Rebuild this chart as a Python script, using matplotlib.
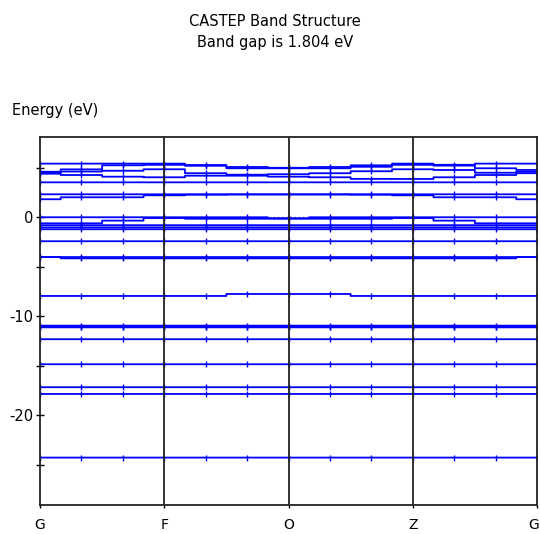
import numpy as np
import matplotlib
matplotlib.use("Agg")
import matplotlib.pyplot as plt
from matplotlib.transforms import ScaledTranslation

# ---- data ----
kpath_labels = ["G", "F", "O", "Z", "G"]
kpoints = [i / 3 for i in range(13)]  # 3 intervals per path segment

bands = {
    "u1": [5.42, 5.42, 5.42, 5.42, 5.28, 5.08, 5.00, 5.08, 5.25, 5.42, 5.22, 5.42, 5.42],
    "u2": [4.60, 4.84, 5.25, 5.30, 5.20, 4.95, 4.95, 4.95, 5.10, 5.30, 5.30, 4.95, 4.78],
    "u3": [4.50, 4.62, 4.70, 4.85, 4.45, 4.30, 4.35, 4.45, 4.65, 4.85, 4.78, 4.50, 4.60],
    "u4": [4.40, 4.27, 4.10, 4.04, 4.20, 4.20, 4.10, 4.04, 3.88, 3.87, 4.04, 4.27, 4.45],
    "u5": [3.53] * 13,
    "c2": [2.32] * 13,
    "c1": [1.82, 2.02, 2.02, 2.22, 2.28, 2.30, 2.30, 2.30, 2.28, 2.22, 2.02, 2.02, 1.82],
    "v1": [0.0, 0.0, 0.0, 0.0, 0.0, 0.0, -0.10, 0.0, 0.0, 0.0, 0.0, 0.0, 0.0],
    "v2": [-0.61, -0.61, -0.34, -0.08, -0.15, -0.15, -0.15, -0.15, -0.15, -0.08, -0.34, -0.61, -0.61],
    "v3": [-0.80] * 13,
    "v4": [-1.02] * 13,
    "v4b": [-1.21] * 13,
    "v5": [-2.42] * 13,
    "v6": [-4.02] * 13,
    "v7": [-4.02, -4.15, -4.15, -4.15, -4.15, -4.15, -4.15, -4.15, -4.15, -4.15, -4.15, -4.15, -4.02],
    "v8": [-7.95, -7.95, -7.95, -7.95, -7.95, -7.75, -7.75, -7.75, -7.95, -7.95, -7.95, -7.95, -7.95],
    "v9": [-10.95] * 13,
    "v10": [-11.05] * 13,
    "v11": [-11.12] * 13,
    "v12": [-12.32] * 13,
    "v13": [-14.85] * 13,
    "v14": [-17.17] * 13,
    "v15": [-17.85] * 13,
    "v16": [-24.28] * 13,
}

ytick_vals = [5, 0, -5, -10, -15, -20, -25]
ytick_labels = ["", "0", "", "-10", "", "-20", ""]
band_gap = 1.804

# ---- figure ----
W, H = 540, 534
fig = plt.figure(figsize=(W / 100, H / 100), dpi=100)
left, right, top, bottom = 40, 537, 136.7, 505.3
ax = fig.add_axes([left / W, 1 - bottom / H, (right - left) / W, (bottom - top) / H])

ax.axhline(0, color="black", ls=(0, (3, 3)), lw=0.5, zorder=1, snap=False)

for name, vals in bands.items():
    ax.plot(kpoints, vals, color="#0000FF", lw=1.3, drawstyle="steps-mid",
            marker="|", markersize=4.5, markeredgewidth=1.0, zorder=2, snap=False)

for xv in [1, 2, 3]:
    ax.axvline(xv, color="#222222", lw=1.3, zorder=3)

ax.set_xlim(0, 4)
ax.set_ylim(-29.1, 8.14)
ax.set_xticks(range(5))
ax.set_xticklabels(kpath_labels)
ax.set_yticks(ytick_vals)
ax.set_yticklabels(ytick_labels)

for sp in ax.spines.values():
    sp.set_color("#222222")
    sp.set_linewidth(1.3)
    sp.set_zorder(4)

ax.tick_params(axis="y", direction="inout", length=6, width=1.0, color="black",
               labelsize=10.5, pad=2)
ax.tick_params(axis="x", direction="out", length=2, width=1.0, color="black",
               labelsize=10, pad=7)

# keep the last "G" inside the canvas
last = ax.get_xticklabels()[-1]
last.set_transform(last.get_transform() + ScaledTranslation(-3 / 100, 0, fig.dpi_scale_trans))

fig.text(275 / W, 1 - 21 / H, "CASTEP Band Structure", ha="center", va="center",
         fontsize=10.5, family="DejaVu Sans")
fig.text(275 / W, 1 - 42 / H, "Band gap is %.3f eV" % band_gap, ha="center", va="center",
         fontsize=10.5, family="DejaVu Sans")
fig.text(12 / W, 1 - 111 / H, "Energy (eV)", ha="left", va="center",
         fontsize=10.5, family="DejaVu Sans")

fig.savefig("out.png", dpi=100)
